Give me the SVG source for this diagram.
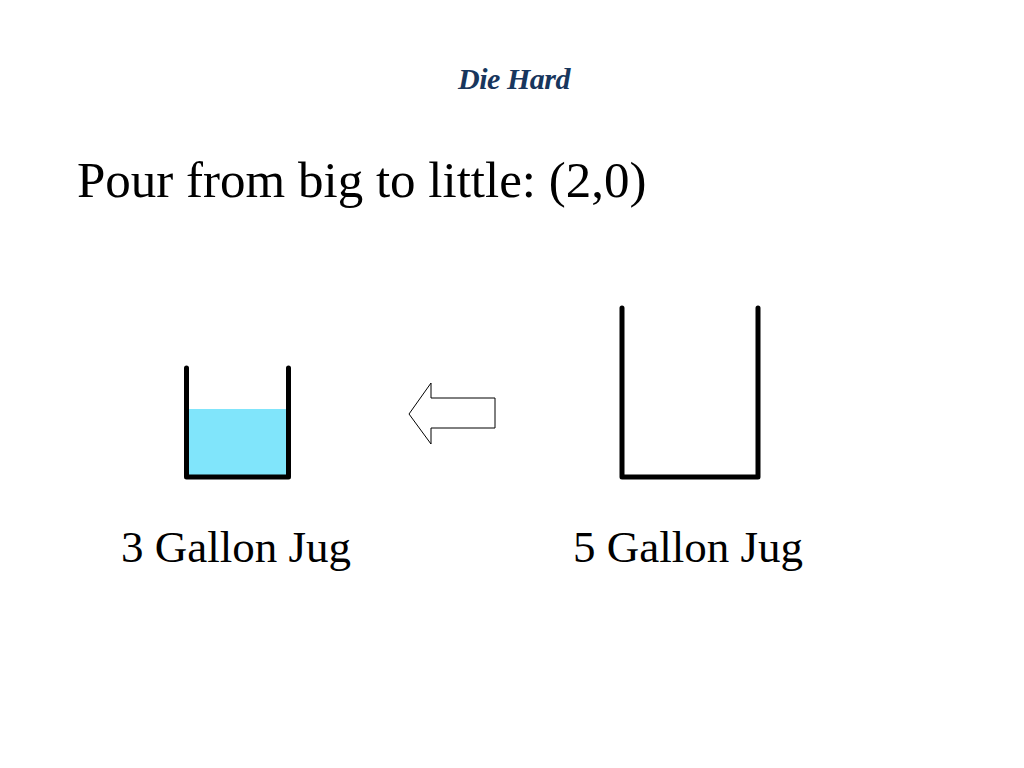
<svg xmlns="http://www.w3.org/2000/svg" width="1024" height="768" viewBox="0 0 1024 768">
<style>
.jug{fill:none;stroke:#000;stroke-width:5;stroke-linecap:round;stroke-linejoin:round}
.lbl{font-family:"Liberation Serif",serif;font-size:45px;fill:#000}
</style>
<rect width="1024" height="768" fill="#fff"/>
<text x="514" y="89" text-anchor="middle" font-family="Liberation Serif,serif" font-style="italic" font-weight="bold" font-size="30" fill="#17365d" letter-spacing="-0.5">Die Hard</text>
<text x="77" y="197" font-family="Liberation Serif,serif" font-size="51" fill="#000">Pour from big to little: (2,0)</text>
<g id="jug3">
<rect x="187" y="409" width="101" height="67" fill="#80e5fb"/>
<polyline class="jug" points="186.5,368 186.5,477 288.5,477 288.5,368"/>
<text class="lbl" x="121" y="562">3 Gallon Jug</text>
</g>
<g id="connectors">
<polygon points="409,414 431,383 431,398 495,398 495,428 431,428 431,444" fill="#fff" stroke="#000" stroke-width="1"/>
</g>
<g id="jug5">
<polyline class="jug" points="622,308 622,477 758,477 758,308"/>
<text class="lbl" x="573" y="562">5 Gallon Jug</text>
</g>
</svg>
